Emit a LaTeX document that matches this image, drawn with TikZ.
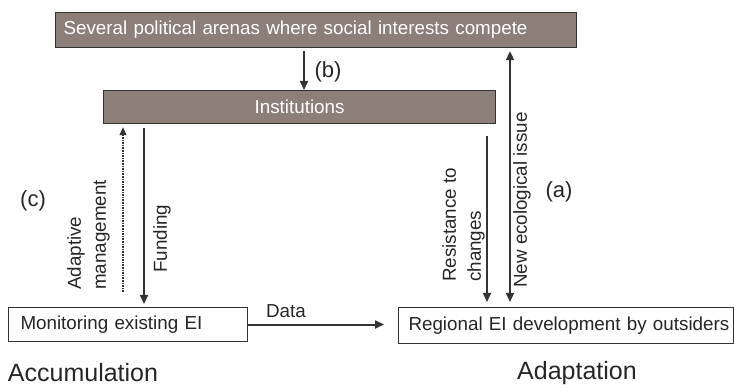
\documentclass[tikz,border=0pt]{standalone}
\usepackage{fontspec}
\setmainfont{Liberation Sans}
\usetikzlibrary{arrows.meta,calc}
\definecolor{boxfill}{HTML}{8C7E79}
\definecolor{ink}{HTML}{333333}
\definecolor{txt}{HTML}{262626}
\newcommand\boxfs{\fontsize{18.8}{25}\selectfont}
\newcommand\labfs{\fontsize{22}{26}\selectfont}
\newcommand\bigfs{\fontsize{25}{29}\selectfont}
\tikzset{
  darkbox/.style={draw=ink, line width=1.2pt, fill=boxfill, text=white, font=\boxfs, inner ysep=0pt, anchor=north west},
  whitebox/.style={draw=ink, line width=1pt, fill=white, text=txt, font=\boxfs, inner ysep=0pt, anchor=north west},
  arr/.style={draw=ink, line width=2pt, -{Triangle[length=9pt,width=8pt]}},
  darr/.style={draw=ink, line width=2pt, {Triangle[length=9pt,width=8pt]}-{Triangle[length=9pt,width=8pt]}},
  dotarr/.style={draw=ink, line width=1.3pt, dash pattern=on 1.6pt off 1pt, -{Triangle[length=8pt,width=7pt]}},
  lbl/.style={font=\boxfs, text=txt, inner sep=0pt},
  vlbl/.style={lbl, rotate=90, align=left, anchor=north west},
  paren/.style={font=\labfs, text=txt, inner sep=0pt},
  phase/.style={font=\bigfs, text=txt, inner sep=0pt}
}
\begin{document}
\begin{tikzpicture}[x=1pt,y=-1pt]
\useasboundingbox (0,0) rectangle (734,390);
% boxes
\node[darkbox, minimum width=521pt, minimum height=35pt, inner xsep=8pt, text width=505pt, align=left] (top) at (55,12) {\mbox{Several political arenas where social interests compete}};
\node[darkbox, minimum width=392pt, minimum height=33pt, inner xsep=0pt, text width=392pt, align=center] (inst) at (103,90) {Institutions};
\node[whitebox, minimum width=239pt, minimum height=34pt, inner xsep=12pt, text width=215pt, align=left] (mon) at (8,307) {\mbox{Monitoring existing EI}};
\node[whitebox, minimum width=335pt, minimum height=36pt, inner xsep=10pt, text width=315pt, align=left] (reg) at (398,307) {\mbox{Regional EI development by outsiders}};
% helper coordinates for arrow x positions
\coordinate (xb) at (304,0);
\coordinate (xad) at (123,0);
\coordinate (xfu) at (144,0);
\coordinate (xre) at (487,0);
\coordinate (xne) at (510,0);
\coordinate (dataend) at (384,0);
% connectors
\draw[arr] ($(top.south -| xb)+(0,3)$) -- (inst.north -| xb);
\draw[dotarr] ($(mon.north -| xad)+(0,-15)$) -- ($(inst.south -| xad)+(0,3)$);
\draw[arr] ($(inst.south -| xfu)+(0,4)$) -- ($(mon.north -| xfu)+(0,-3)$);
\draw[arr] ($(inst.south -| xre)+(0,12)$) -- ($(reg.north -| xre)+(0,-5)$);
\draw[darr] ($(reg.north -| xne)+(0,-5)$) -- ($(top.south -| xne)+(0,3)$);
\draw[arr] (mon.east) -- (mon.east -| dataend);
% labels
\node[lbl, anchor=south] (data) at (286,318) {Data};
\node[vlbl] (adm) at (67,290) {Adaptive\\management};
\node[vlbl] (fund) at (153,273) {Funding};
\node[vlbl] (res) at (442,282) {Resistance to\\changes};
\node[vlbl] (newi) at (513,288) {New ecological issue};
\node[paren] (pb) at (328,72) {(b)};
\node[paren] (pc) at (33,201) {(c)};
\node[paren] (pa) at (559,192) {(a)};
\node[phase] (acc) at (83,373) {Accumulation};
\node[phase] (ada) at (577,373) {Adaptation};
\end{tikzpicture}
\end{document}
